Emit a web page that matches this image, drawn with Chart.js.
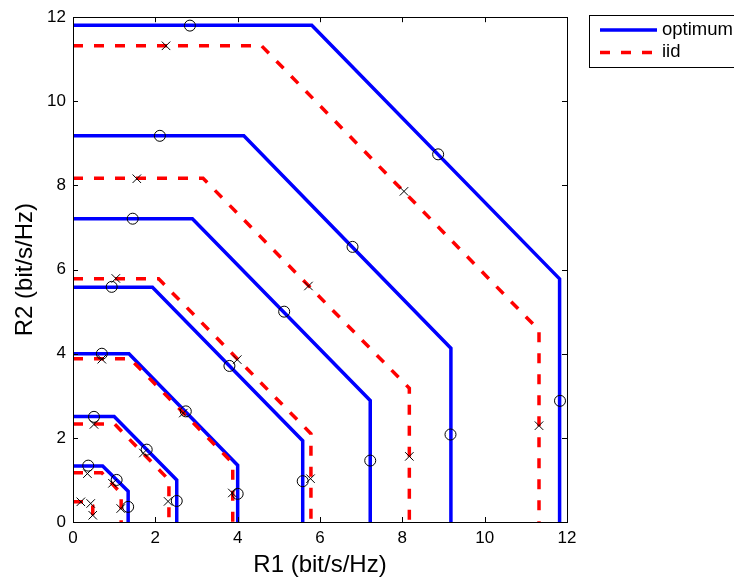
<!DOCTYPE html>
<html>
<head>
<meta charset="utf-8">
<script src="https://cdn.jsdelivr.net/npm/chart.js@4/dist/chart.umd.min.js"></script>
<style>
  html, body { margin: 0; padding: 0; background: #fff; }
  canvas { display: block; }
</style>
</head>
<body>
<canvas id="chart" width="734" height="582"></canvas>
<script>
// region boundaries, one row per curve (R1 and R2 vertices)
const optimumR1 = [
  [0, 5.8, 11.82, 11.82],
  [0, 4.15, 9.18, 9.18],
  [0, 2.9, 7.22, 7.22],
  [0, 1.93, 5.58, 5.58],
  [0, 1.36, 4.0, 4.0],
  [0, 1.0, 2.52, 2.52],
  [0, 0.72, 1.34, 1.34]
];
const optimumR2 = [
  [11.81, 11.81, 5.78, 0],
  [9.18, 9.18, 4.13, 0],
  [7.21, 7.21, 2.89, 0],
  [5.58, 5.58, 1.93, 0],
  [4.0, 4.0, 1.35, 0],
  [2.51, 2.51, 1.0, 0],
  [1.33, 1.33, 0.73, 0]
];
const iidR1 = [
  [0, 4.58, 11.32, 11.32],
  [0, 3.16, 8.17, 8.17],
  [0, 2.08, 5.78, 5.78],
  [0, 1.39, 3.88, 3.88],
  [0, 1.01, 2.33, 2.33],
  [0, 0.7, 1.17, 1.17],
  [0, 0.39, 0.48, 0.48]
];
const iidR2 = [
  [11.32, 11.32, 4.56, 0],
  [8.17, 8.17, 3.18, 0],
  [5.78, 5.78, 2.1, 0],
  [3.88, 3.88, 1.4, 0],
  [2.33, 2.33, 1.0, 0],
  [1.17, 1.17, 0.68, 0],
  [0.48, 0.48, 0.39, 0]
];

// simulated points
const optMarkR1 = [2.84, 8.87, 11.83, 2.11, 6.79, 9.17, 1.45, 5.13, 7.22, 0.94, 3.8, 5.58, 0.7, 2.74, 4.0, 0.51, 1.79, 2.52, 0.37, 1.06, 1.34];
const optMarkR2 = [11.8, 8.74, 2.88, 9.18, 6.54, 2.08, 7.21, 5.0, 1.46, 5.59, 3.71, 0.97, 4.0, 2.63, 0.67, 2.5, 1.72, 0.5, 1.34, 1.0, 0.36];
const iidMarkR1 = [2.26, 8.04, 11.32, 1.55, 5.72, 8.17, 1.04, 3.99, 5.77, 0.7, 2.68, 3.87, 0.51, 1.71, 2.31, 0.35, 0.96, 1.16, 0.19, 0.43, 0.48];
const iidMarkR2 = [11.32, 7.86, 2.29, 8.16, 5.61, 1.56, 5.79, 3.86, 1.03, 3.87, 2.59, 0.69, 2.32, 1.64, 0.49, 1.15, 0.92, 0.32, 0.48, 0.44, 0.16];

const tickValues = [0, 2, 4, 6, 8, 10, 12];
const legendLabels = ['optimum', 'iid'];

const FONT = "'Liberation Sans', Arial, Helvetica, sans-serif";
const BLUE = 'rgb(0,0,255)';
const RED = 'rgb(255,0,0)';
const DASH = [10, 11];

const toPoints = (xs, ys) => xs.map((v, i) => ({ x: v, y: ys[i] }));

const datasets = [];
datasets.push({
  data: toPoints(optMarkR1, optMarkR2), showLine: false, order: 0,
  pointStyle: 'circle', pointRadius: 5.5, pointBorderColor: '#000',
  pointBackgroundColor: 'rgba(0,0,0,0)', pointBorderWidth: 1
});
datasets.push({
  data: toPoints(iidMarkR1, iidMarkR2), showLine: false, order: 0,
  pointStyle: 'crossRot', pointRadius: 6, pointBorderColor: '#000',
  pointBorderWidth: 1
});
iidR1.forEach((xs, i) => datasets.push({
  data: toPoints(xs, iidR2[i]), showLine: true, order: 1,
  borderColor: RED, borderWidth: 3.5, borderDash: DASH, pointRadius: 0,
  tension: 0, fill: false
}));
optimumR1.forEach((xs, i) => datasets.push({
  data: toPoints(xs, optimumR2[i]), showLine: true, order: 2,
  borderColor: BLUE, borderWidth: 3.5, pointRadius: 0, tension: 0, fill: false
}));

// axes box with inward ticks on all four sides, plus legend box
const framePlugin = {
  id: 'frame',
  afterDraw(chart) {
    const { ctx, chartArea: a, scales: { x, y } } = chart;
    ctx.save();
    ctx.strokeStyle = '#000';
    ctx.lineWidth = 1;
    ctx.strokeRect(Math.round(a.left) + 0.5, Math.round(a.top) + 0.5,
      Math.round(a.right - a.left), Math.round(a.bottom - a.top));
    ctx.beginPath();
    tickValues.forEach(v => {
      const px = Math.round(x.getPixelForValue(v)) + 0.5;
      ctx.moveTo(px, a.bottom); ctx.lineTo(px, a.bottom - 5);
      ctx.moveTo(px, a.top); ctx.lineTo(px, a.top + 5);
      const py = Math.round(y.getPixelForValue(v)) + 0.5;
      ctx.moveTo(a.left, py); ctx.lineTo(a.left + 5, py);
      ctx.moveTo(a.right, py); ctx.lineTo(a.right - 5, py);
    });
    ctx.stroke();

    // legend
    const lx = 589, ly = 15;
    ctx.fillStyle = '#fff';
    ctx.fillRect(lx, ly, 160, 52);
    ctx.strokeRect(lx + 0.5, ly + 0.5, 160, 52);
    ctx.lineWidth = 3.5;
    ctx.strokeStyle = BLUE;
    ctx.beginPath(); ctx.moveTo(600, 30); ctx.lineTo(657, 30); ctx.stroke();
    ctx.strokeStyle = RED;
    ctx.setLineDash(DASH);
    ctx.beginPath(); ctx.moveTo(600, 52.5); ctx.lineTo(657, 52.5); ctx.stroke();
    ctx.setLineDash([]);
    ctx.fillStyle = '#000';
    ctx.font = '18.5px ' + FONT;
    ctx.textBaseline = 'middle';
    ctx.textAlign = 'left';
    ctx.fillText(legendLabels[0], 662, 30);
    ctx.fillText(legendLabels[1], 662, 52);
    ctx.restore();
  }
};

new Chart(document.getElementById('chart').getContext('2d'), {
  type: 'scatter',
  data: { datasets: datasets },
  options: {
    responsive: false,
    animation: false,
    layout: { padding: { top: 15, right: 167, left: 0, bottom: 0 } },
    plugins: { legend: { display: false }, tooltip: { enabled: false } },
    scales: {
      x: {
        type: 'linear', min: 0, max: 12,
        afterFit: s => { s.height = 60; },
        afterBuildTicks: s => { s.ticks = tickValues.map(v => ({ value: v })); },
        grid: { display: false, drawTicks: false },
        border: { display: false },
        ticks: { color: '#000', padding: 6, font: { size: 17, family: FONT } },
        title: { display: true, text: 'R1 (bit/s/Hz)', color: '#000',
                 font: { size: 24, family: FONT }, padding: { top: 0, bottom: 2 } }
      },
      y: {
        type: 'linear', min: 0, max: 12,
        afterFit: s => { s.width = 73; },
        afterBuildTicks: s => { s.ticks = tickValues.map(v => ({ value: v })); },
        grid: { display: false, drawTicks: false },
        border: { display: false },
        ticks: { color: '#000', padding: 7, font: { size: 17, family: FONT } },
        title: { display: true, text: 'R2 (bit/s/Hz)', color: '#000',
                 font: { size: 24, family: FONT }, padding: { top: 11, bottom: 0 } }
      }
    }
  },
  plugins: [framePlugin]
});
</script>
</body>
</html>
